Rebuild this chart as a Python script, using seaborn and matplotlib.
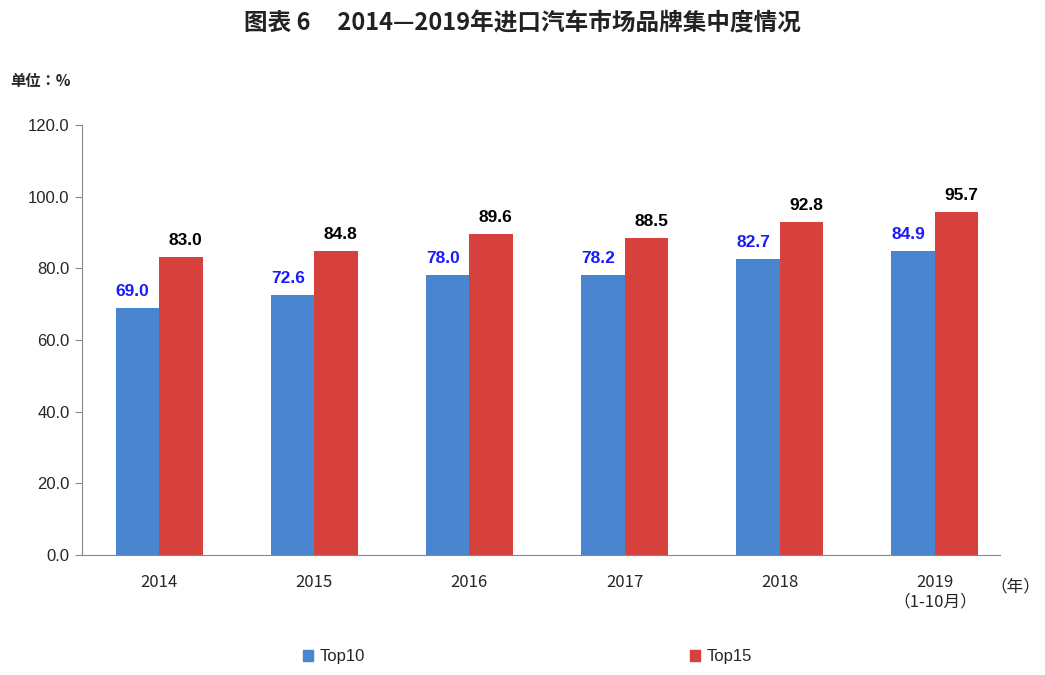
import matplotlib
matplotlib.use("Agg")
import matplotlib.pyplot as plt
from matplotlib import font_manager as fm
import seaborn as sns
import pandas as pd
from matplotlib.patches import Patch
import glob

years = ["2014", "2015", "2016", "2017", "2018", "2019\n（1-10月）"]
top10 = [69.0, 72.6, 78.0, 78.2, 82.7, 84.9]
top15 = [83.0, 84.8, 89.6, 88.5, 92.8, 95.7]

# make sure a CJK font is registered
for f in glob.glob("/usr/share/fonts/**/*CJK*", recursive=True):
    try:
        fm.fontManager.addfont(f)
    except Exception:
        pass
cjk = sorted({f.name for f in fm.fontManager.ttflist if "CJK" in f.name})
cjk_name = cjk[0] if cjk else "DejaVu Sans"

sns.set_style("white")
plt.rcParams["font.family"] = "sans-serif"
plt.rcParams["font.sans-serif"] = ["Liberation Sans", "DejaVu Sans"]

df = pd.DataFrame({
    "year": years * 2,
    "value": top10 + top15,
    "series": ["Top10"] * 6 + ["Top15"] * 6,
})

fig = plt.figure(figsize=(10.45, 6.75), dpi=100)
ax = fig.add_axes([0.078, 0.178, 0.879, 0.637])
sns.barplot(data=df, x="year", y="value", hue="series", ax=ax,
            palette=["#4a86cf", "#d6403d"], width=0.56, gap=0,
            saturation=1, edgecolor="none", legend=False)

colors = ["#1a1aff", "#000000"]
for cont, col in zip(ax.containers, colors):
    for bar in cont:
        h = bar.get_height()
        ax.text(bar.get_x() + bar.get_width() / 2 - (0.03 if col != "#000000" else -0.03),
                h + 2.5, f"{h:.1f}", ha="center", va="bottom",
                fontsize=12.5, fontweight="bold", color=col)

ax.set_ylim(0, 120)
ax.set_yticks(range(0, 121, 20))
ax.set_yticklabels([f"{v:.1f}" for v in range(0, 121, 20)], fontsize=12)
ax.set_xlim(-0.5, 5.42)
ax.tick_params(axis="x", labelsize=12, length=0, pad=14)
for lab in ax.get_xticklabels():
    lab.set_fontfamily(cjk_name)
ax.tick_params(axis="y", length=5, direction="out", left=True, color="#888888")
ax.set_xlabel("")
ax.set_ylabel("")
for s in ["top", "right"]:
    ax.spines[s].set_visible(False)
for s in ["left", "bottom"]:
    ax.spines[s].set_color("#888888")

fig.text(0.5, 0.965, "图表 6     2014—2019年进口汽车市场品牌集中度情况",
         ha="center", va="center", fontsize=17, fontweight="bold",
         color="#222222", fontfamily=cjk_name)
fig.text(0.01, 0.88, "单位：%", fontsize=11, fontweight="bold", va="center",
         fontfamily=cjk_name)
fig.text(0.948, 0.131, "（年）", fontsize=12, va="center", fontfamily=cjk_name)

fig.legend(handles=[Patch(color="#4a86cf", label="Top10")], loc="center",
           bbox_to_anchor=(0.32, 0.027), frameon=False, fontsize=12,
           handlelength=0.6, handleheight=0.6, handletextpad=0.4)
fig.legend(handles=[Patch(color="#d6403d", label="Top15")], loc="center",
           bbox_to_anchor=(0.69, 0.027), frameon=False, fontsize=12,
           handlelength=0.6, handleheight=0.6, handletextpad=0.4)

fig.savefig("out.png", dpi=100)
